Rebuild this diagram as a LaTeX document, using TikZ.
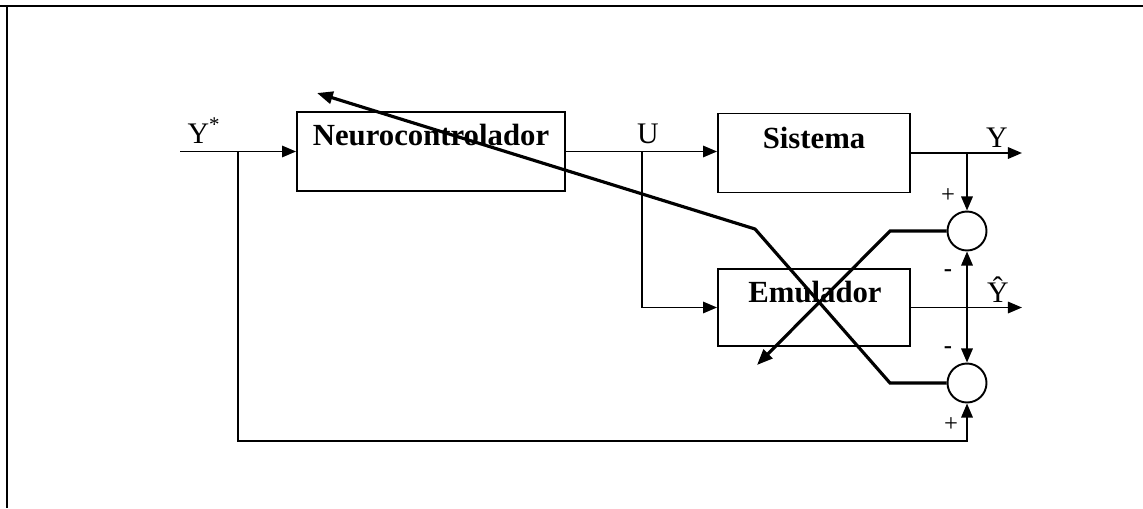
\documentclass[tikz,border=0pt]{standalone}
\usepackage{fontspec}
\setmainfont{Liberation Serif}
\usepackage{tikz}
\usetikzlibrary{arrows.meta}
\usetikzlibrary{positioning, shapes.geometric}

\tikzset{
  blk/.style={draw, line width=1.1pt, rectangle, minimum height=1.58cm, inner sep=0pt},
  blktxt/.style={anchor=base, font=\fontsize{17.5}{20}\selectfont\bfseries},
  sig/.style={line width=1.1pt, -{Triangle[length=8pt,width=6.5pt]}},
  err/.style={line width=1.8pt, -{Triangle[length=9pt,width=7pt]}},
  sumnode/.style={draw, circle, line width=1.1pt, minimum size=0.78cm, inner sep=0pt},
  lbl/.style={anchor=base, font=\fontsize{17}{20}\selectfont},
  sgn/.style={font=\fontsize{14}{16}\selectfont, inner sep=0pt}
}

\begin{document}
\begin{tikzpicture}[x=0.02cm, y=-0.02cm]
  \useasboundingbox (0,0) rectangle (1143,508);
  \draw[line width=1.7pt] (0,6) -- (1143,6) (7,6) -- (7,508);

  % blocks
  \node[blk, minimum width=5.36cm] (neuro) at (431,151.5) {};
  \node[blk, minimum width=3.84cm] (sis) at (814,153) {};
  \node[blk, minimum width=3.84cm, minimum height=1.54cm] (emu) at (814,307.5) {};
  \node[blktxt] at (431,145) {Neurocontrolador};
  \node[blktxt] at (814,148) {Sistema};
  \node[blktxt] at (815,302) {Emulador};

  \node[sumnode] (sumA) at (967,231) {};
  \node[sumnode] (sumB) at (967,383) {};

  \coordinate (ref) at (180,151.5);
  \coordinate (refsplit) at (238,151.5);
  \coordinate (usplit) at (642,151.5);
  \coordinate (ysplit) at (967,153);
  \coordinate (yout) at (1022,153);
  \coordinate (yhout) at (1022,307.5);
  \coordinate (loop) at (238,441);
  \coordinate (kneeA) at (890,231);
  \coordinate (tipA) at (757,365);
  \coordinate (kneeB) at (890,383);
  \coordinate (bendB) at (755,229);
  \coordinate (tipB) at (317,93);

  % signal paths
  \draw[sig] (ref) -- (neuro.west);
  \draw[sig] (neuro.east |- usplit) -- (sis.west |- usplit);
  \draw[sig] (usplit) |- (emu.west);
  \draw[sig] (sis.east) -- (yout);
  \draw[sig] (emu.east) -- (yhout);
  \draw[sig] (ysplit) -- (sumA.north);
  \draw[sig] (refsplit) -- (loop) -| (sumB.south);
  \draw[line width=1.1pt, {Triangle[length=8pt,width=6.5pt]}-{Triangle[length=8pt,width=6.5pt]}] (sumA.south) -- (sumB.north);

  % error feedback
  \draw[err] (sumA.west) -- (kneeA) -- (tipA);
  \draw[err] (sumB.west) -- (kneeB) -- (bendB) -- (tipB);

  \node[lbl] at (204,143) {Y\textsuperscript{*}};
  \node[lbl] at (648,143) {U};
  \node[lbl] at (997,147) {Y};
  \node[lbl] at (998,302) {\^{Y}};
  \node[sgn] at (948,196) {+};
  \node[sgn, font=\fontsize{14}{16}\selectfont\bfseries] at (948,273) {-};
  \node[sgn, font=\fontsize{14}{16}\selectfont\bfseries] at (948,350) {-};
  \node[sgn] at (951,425) {+};
\end{tikzpicture}
\end{document}
